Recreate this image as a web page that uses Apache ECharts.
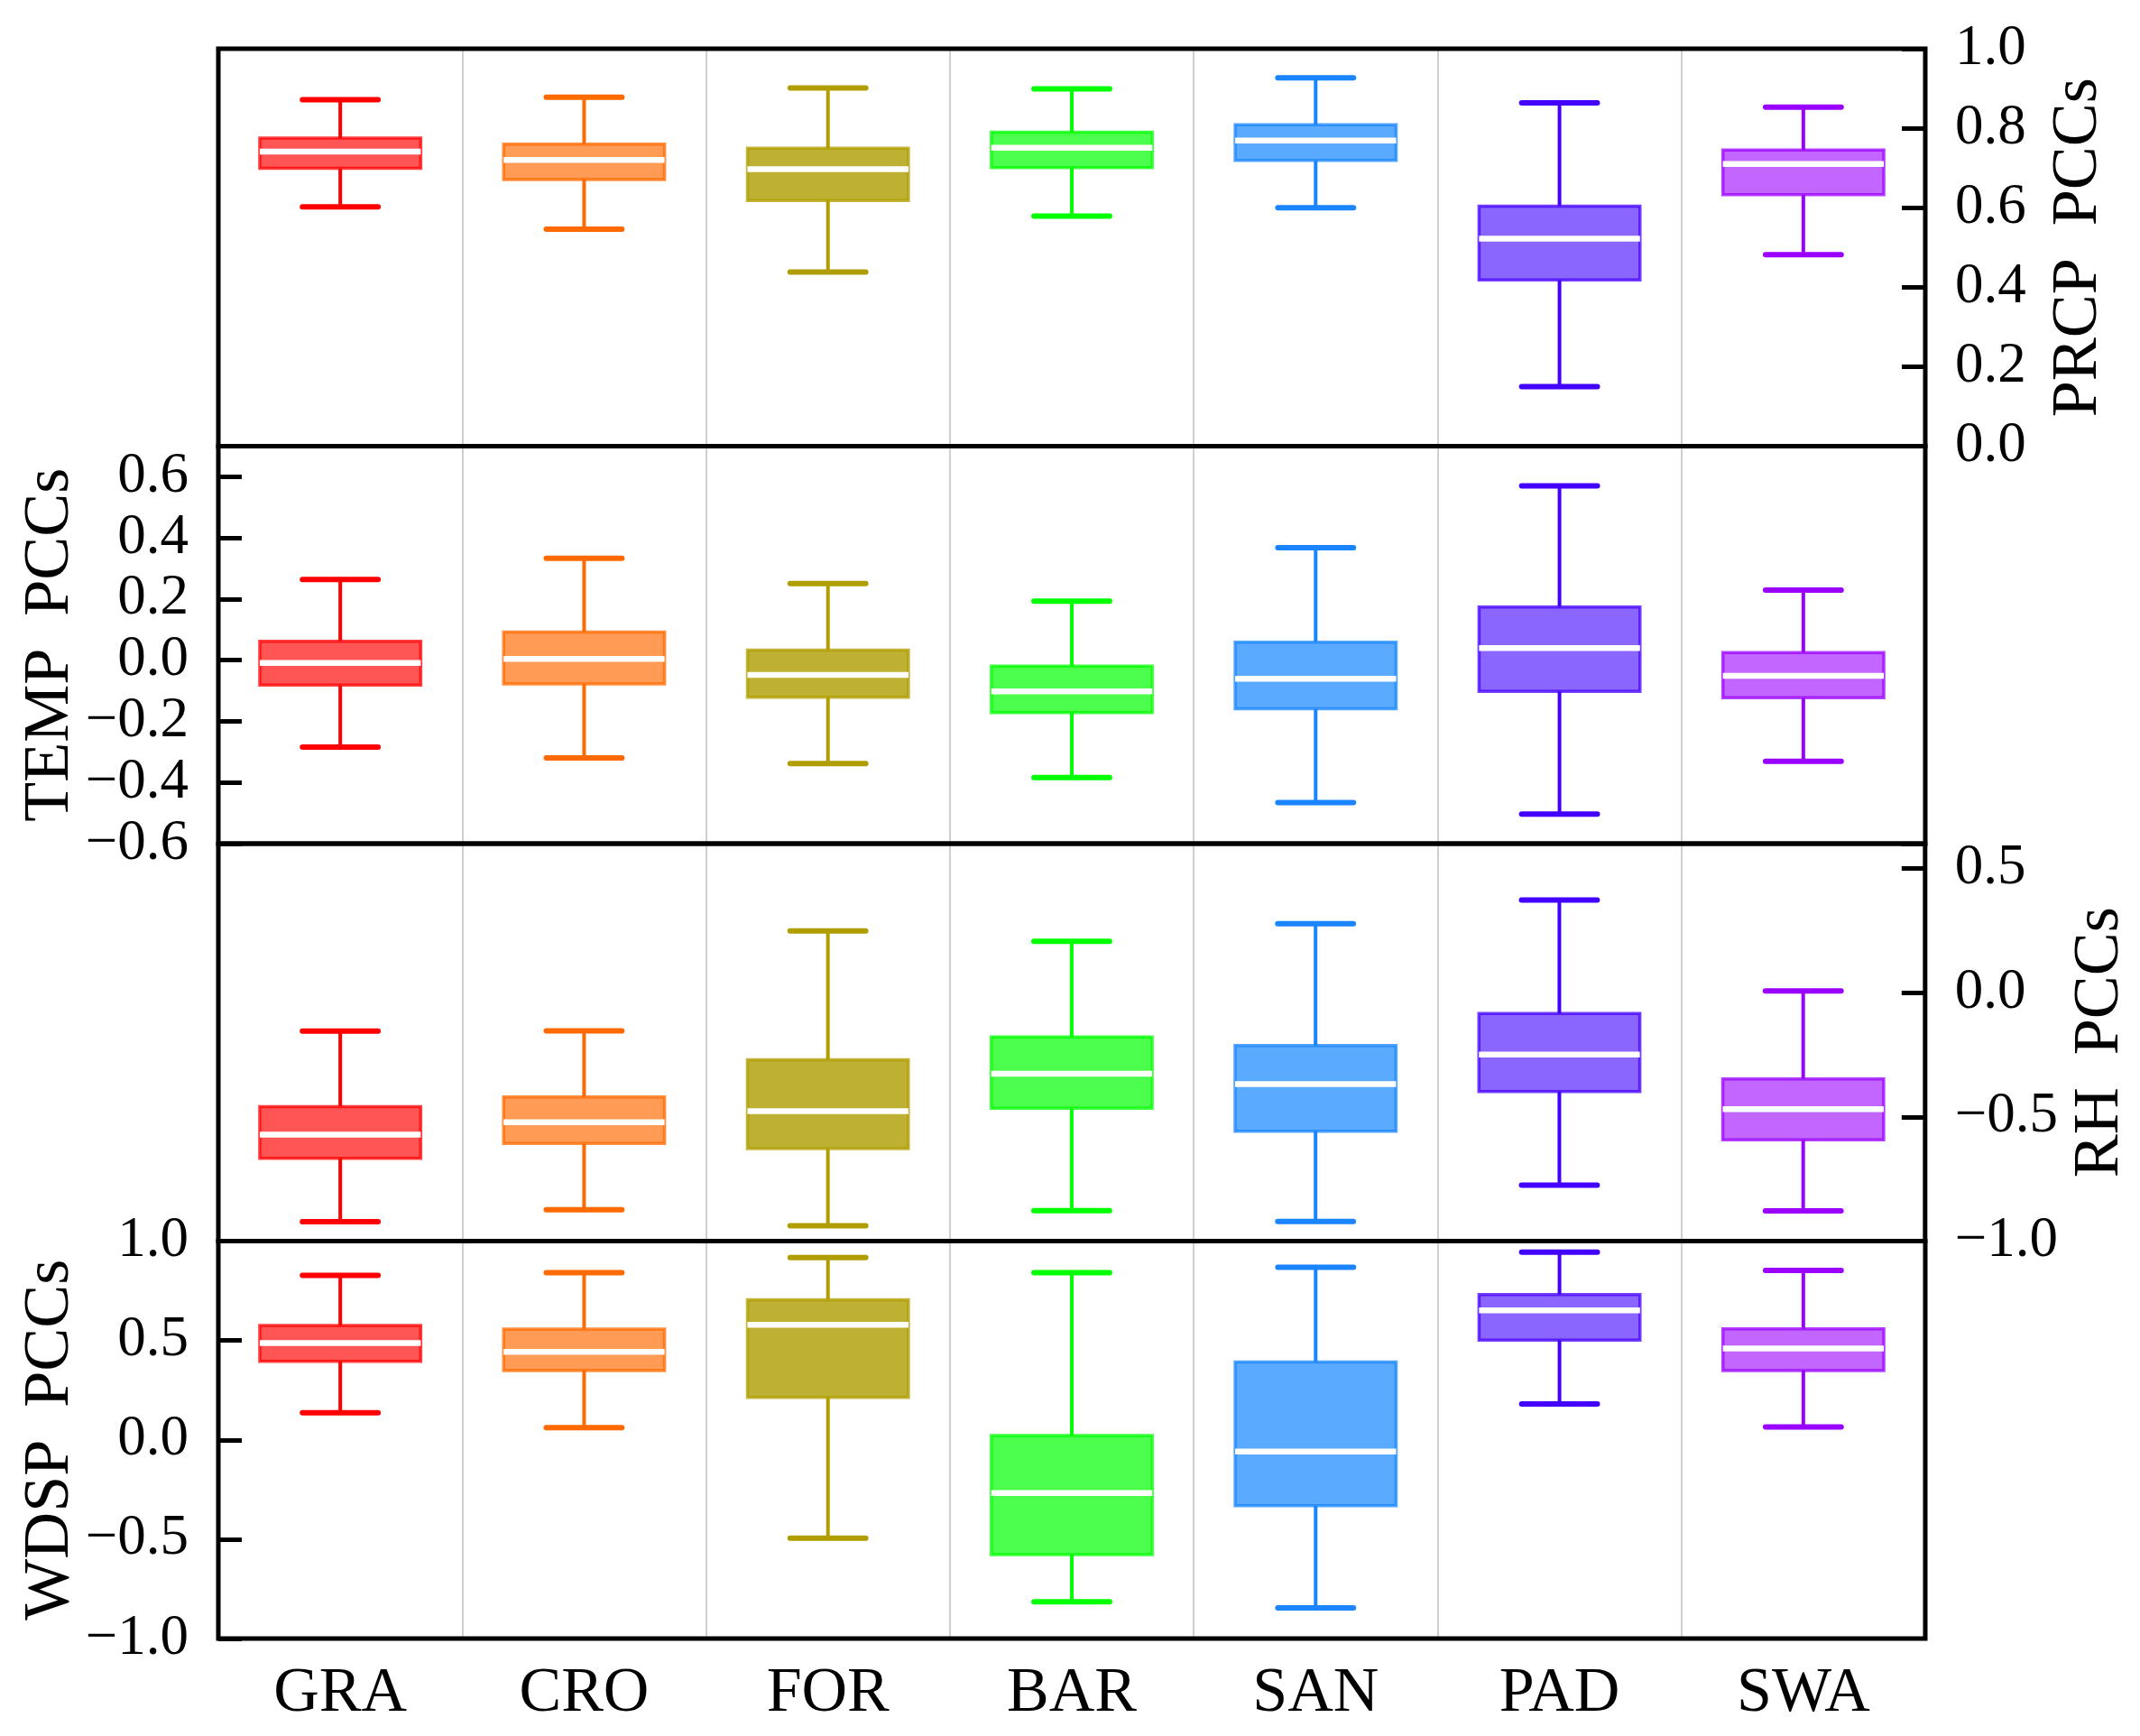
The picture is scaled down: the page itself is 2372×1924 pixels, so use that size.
<!DOCTYPE html>
<html><head><meta charset="utf-8">
<script src="https://cdn.jsdelivr.net/npm/echarts@6/dist/echarts.min.js"></script>
<style>html,body{margin:0;padding:0;background:#fff}#c{width:2372px;height:1924px}</style>
</head><body><div id="c"></div>
<script>
const categories = ['GRA', 'CRO', 'FOR', 'BAR', 'SAN', 'PAD', 'SWA'];
// each row: [min, Q1, median, Q3, max]
const prcp = [
  [0.602, 0.699, 0.741, 0.775, 0.872],
  [0.546, 0.671, 0.720, 0.760, 0.878],
  [0.438, 0.618, 0.697, 0.750, 0.901],
  [0.579, 0.701, 0.751, 0.790, 0.899],
  [0.600, 0.719, 0.769, 0.809, 0.927],
  [0.150, 0.418, 0.522, 0.604, 0.864],
  [0.482, 0.633, 0.710, 0.745, 0.853]
];
const temp = [
  [-0.284, -0.081, -0.009, 0.062, 0.264],
  [-0.320, -0.078, 0.004, 0.092, 0.333],
  [-0.338, -0.121, -0.048, 0.033, 0.251],
  [-0.384, -0.171, -0.102, -0.019, 0.193],
  [-0.466, -0.159, -0.061, 0.059, 0.368],
  [-0.503, -0.102, 0.040, 0.174, 0.570],
  [-0.331, -0.123, -0.051, 0.025, 0.229]
];
const rh = [
  [-0.922, -0.667, -0.571, -0.459, -0.155],
  [-0.874, -0.607, -0.521, -0.420, -0.154],
  [-0.938, -0.628, -0.477, -0.270, 0.249],
  [-0.877, -0.465, -0.326, -0.178, 0.207],
  [-0.921, -0.558, -0.368, -0.213, 0.278],
  [-0.775, -0.398, -0.249, -0.084, 0.373],
  [-0.878, -0.592, -0.469, -0.347, 0.007]
];
const wdsp = [
  [0.136, 0.395, 0.487, 0.576, 0.828],
  [0.061, 0.349, 0.443, 0.557, 0.841],
  [-0.495, 0.213, 0.579, 0.705, 0.917],
  [-0.815, -0.578, -0.268, 0.021, 0.841],
  [-0.846, -0.331, -0.059, 0.392, 0.868],
  [0.180, 0.502, 0.651, 0.731, 0.944],
  [0.065, 0.349, 0.460, 0.558, 0.852]
];
// axis ranges: [min, max, tick interval]
const prcpAxis = [0, 1.0, 0.2];
const tempAxis = [-0.6, 0.7, 0.2];
const rhAxis = [-1.0, 0.6, 0.5];
const wdspAxis = [-1.0, 1.0, 0.5];
const axisTitles = ['PRCP  PCCs', 'TEMP  PCCs', 'RH  PCCs', 'WDSP  PCCs'];

const lineColors = ['#FF0000', '#FF6A00', '#B09E00', '#00FF00', '#1A85FF', '#4400FF', '#9900FF'];
const fillColors = ['#FF5555', '#FF9B55', '#BDB032', '#4DFF4D', '#5AAAFF', '#8A66FF', '#C266FF'];

const FONT = '"Liberation Serif", "Times New Roman", serif';
const panels = [
  {data: prcp, axis: prcpAxis, pos: 'right'},
  {data: temp, axis: tempAxis, pos: 'left'},
  {data: rh, axis: rhAxis, pos: 'right'},
  {data: wdsp, axis: wdspAxis, pos: 'left'}
];
const tops = [54, 494.5, 935, 1375.5];
const H = 440.5;

function makeFmt(step) {
  return function (v) {
    if (Math.abs(v / step - Math.round(v / step)) > 1e-6) return '';
    let s = v.toFixed(1);
    if (s === '-0.0') s = '0.0';
    return s.replace('-', '\u2212');
  };
}

function renderItem(params, api) {
  const k = api.value(0);
  const lc = lineColors[k], fc = fillColors[k];
  const pMin = api.coord([k, api.value(1)]);
  const pQ1 = api.coord([k, api.value(2)]);
  const pMed = api.coord([k, api.value(3)]);
  const pQ3 = api.coord([k, api.value(4)]);
  const pMax = api.coord([k, api.value(5)]);
  const band = api.size([1, 0])[0];
  const bw = band * 0.66;
  const cw = bw * 0.47;
  const cx = pMed[0];
  return {
    type: 'group',
    children: [
      {type: 'line', shape: {x1: cx, y1: pMax[1], x2: cx, y2: pQ3[1]}, style: {stroke: lc, lineWidth: 4}},
      {type: 'line', shape: {x1: cx, y1: pQ1[1], x2: cx, y2: pMin[1]}, style: {stroke: lc, lineWidth: 4}},
      {type: 'line', shape: {x1: cx - cw / 2, y1: pMax[1], x2: cx + cw / 2, y2: pMax[1]}, style: {stroke: lc, lineWidth: 6, lineCap: 'round'}},
      {type: 'line', shape: {x1: cx - cw / 2, y1: pMin[1], x2: cx + cw / 2, y2: pMin[1]}, style: {stroke: lc, lineWidth: 6, lineCap: 'round'}},
      {type: 'rect', shape: {x: cx - bw / 2, y: pQ3[1], width: bw, height: pQ1[1] - pQ3[1]},
        style: {fill: fc, stroke: lc, strokeOpacity: 0.75, lineWidth: 3.5}},
      {type: 'line', shape: {x1: cx - bw / 2, y1: pMed[1], x2: cx + bw / 2, y2: pMed[1]}, style: {stroke: '#FFFFFF', lineWidth: 6.5}}
    ]
  };
}

const grid = [], xAxis = [], yAxis = [], series = [];
panels.forEach((p, i) => {
  grid.push({left: 242, right: 238, top: tops[i], height: H, show: true, z: 5,
    borderColor: '#000', borderWidth: 5, backgroundColor: 'transparent'});
  xAxis.push({
    gridIndex: i, type: 'category', data: categories, boundaryGap: true,
    axisLine: {show: false}, axisTick: {show: false},
    splitLine: {show: true, interval: 0, lineStyle: {color: '#cfcfcf', width: 2}},
    axisLabel: {show: i === 3, interval: 0, margin: 27, fontSize: 70, fontFamily: FONT, color: '#000'}
  });
  const ax = {
    gridIndex: i, type: 'value', position: p.pos,
    min: p.axis[0], max: p.axis[1], interval: p.axis[2],
    axisLine: {show: false},
    axisTick: {show: true, inside: true, length: 26, lineStyle: {color: '#000', width: 5}},
    splitLine: {show: false},
    axisLabel: {margin: 33, fontSize: 63, fontFamily: FONT, color: '#000', formatter: makeFmt(p.axis[2])},
    name: axisTitles[i], nameLocation: 'middle', nameRotate: 90,
    nameGap: p.pos === 'left' ? 150 : 134,
    nameTextStyle: {fontSize: 72, fontFamily: FONT, color: '#000'}
  };
  if (p.pos === 'left') ax.nameMoveOverlap = false;
  yAxis.push(ax);
  series.push({
    type: 'custom', xAxisIndex: i, yAxisIndex: i,
    data: p.data.map((d, k) => [k].concat(d)),
    encode: {x: 0, y: [1, 2, 3, 4, 5]},
    renderItem: renderItem
  });
});

const chart = echarts.init(document.getElementById('c'), null, {renderer: 'canvas'});
chart.setOption({animation: false, backgroundColor: '#fff', grid, xAxis, yAxis, series});
</script>
</body></html>
